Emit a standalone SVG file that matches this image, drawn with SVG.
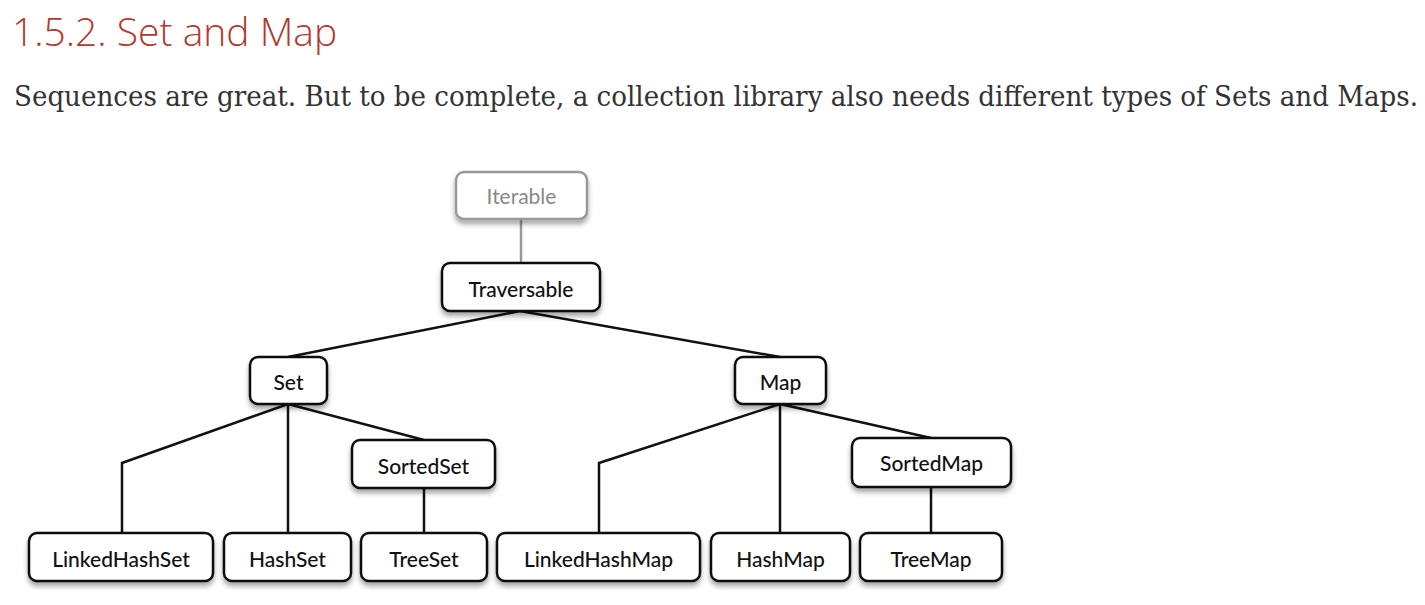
<svg xmlns="http://www.w3.org/2000/svg" width="1425" height="605" viewBox="0 0 1425 605">
<defs>
<filter id="sh" x="-20%" y="-20%" width="140%" height="160%">
<feDropShadow dx="0" dy="4" stdDeviation="2.5" flood-color="#000" flood-opacity="0.35"/>
</filter>
<style>
.box{fill:#fff;stroke:#111;stroke-width:2.5;filter:url(#sh)}
.gbox{fill:#fff;stroke:#999;stroke-width:2.5;filter:url(#sh)}
.lbl{font-family:Lato,"Liberation Sans",sans-serif;font-size:21px;font-weight:500;fill:#111;text-anchor:middle}
.glbl{font-family:Lato,"Liberation Sans",sans-serif;font-size:21px;fill:#888;text-anchor:middle}
.ln{stroke:#111;stroke-width:2.5;fill:none}
.gln{stroke:#999;stroke-width:2.5;fill:none}
</style>
</defs>
<rect width="1425" height="605" fill="#fff"/>
<text x="12" y="46" font-family="'Open Sans',sans-serif" font-weight="300" font-size="39" fill="#b03a2e">1.5.2. Set and Map</text>
<text x="14" y="106" font-family="'DejaVu Serif',serif" font-stretch="condensed" font-size="27" fill="#333" textLength="1404" lengthAdjust="spacingAndGlyphs">Sequences are great. But to be complete, a collection library also needs different types of Sets and Maps.</text>
<g id="connectors">
<line class="gln" x1="521" y1="219" x2="521" y2="263"/>
<polyline class="ln" points="288,357 520,311 780,357"/>
<polyline class="ln" points="122,533 122,463 288,404 288,533"/>
<line class="ln" x1="288" y1="404" x2="424" y2="440"/>
<line class="ln" x1="424" y1="488" x2="424" y2="533"/>
<polyline class="ln" points="599,533 599,463 780,404 780,533"/>
<line class="ln" x1="780" y1="404" x2="931" y2="438"/>
<line class="ln" x1="931" y1="487" x2="931" y2="533"/>
</g>
<g id="iterable"><rect class="gbox" x="456" y="172" width="131" height="47" rx="8"/><text class="glbl" x="521.5" y="204">Iterable</text></g>
<g id="traversable"><rect class="box" x="442" y="263" width="158" height="48" rx="8"/><text class="lbl" x="521" y="297">Traversable</text></g>
<g id="set"><rect class="box" x="250" y="357" width="77" height="47" rx="8"/><text class="lbl" x="288.5" y="390">Set</text></g>
<g id="map"><rect class="box" x="735" y="357" width="91" height="47" rx="8"/><text class="lbl" x="780.5" y="390">Map</text></g>
<g id="sortedset"><rect class="box" x="352" y="440" width="143" height="48" rx="8"/><text class="lbl" x="423.5" y="474">SortedSet</text></g>
<g id="sortedmap"><rect class="box" x="852" y="438" width="159" height="49" rx="8"/><text class="lbl" x="931.5" y="471">SortedMap</text></g>
<g id="linkedhashset"><rect class="box" x="29" y="533" width="184" height="48" rx="8"/><text class="lbl" x="121" y="567">LinkedHashSet</text></g>
<g id="hashset"><rect class="box" x="224" y="533" width="127" height="48" rx="8"/><text class="lbl" x="287.5" y="567">HashSet</text></g>
<g id="treeset"><rect class="box" x="361" y="533" width="126" height="48" rx="8"/><text class="lbl" x="424" y="567">TreeSet</text></g>
<g id="linkedhashmap"><rect class="box" x="497" y="533" width="203" height="48" rx="8"/><text class="lbl" x="598.5" y="567">LinkedHashMap</text></g>
<g id="hashmap"><rect class="box" x="711" y="533" width="139" height="48" rx="8"/><text class="lbl" x="780.5" y="567">HashMap</text></g>
<g id="treemap"><rect class="box" x="860" y="533" width="142" height="48" rx="8"/><text class="lbl" x="931" y="567">TreeMap</text></g>
</svg>
